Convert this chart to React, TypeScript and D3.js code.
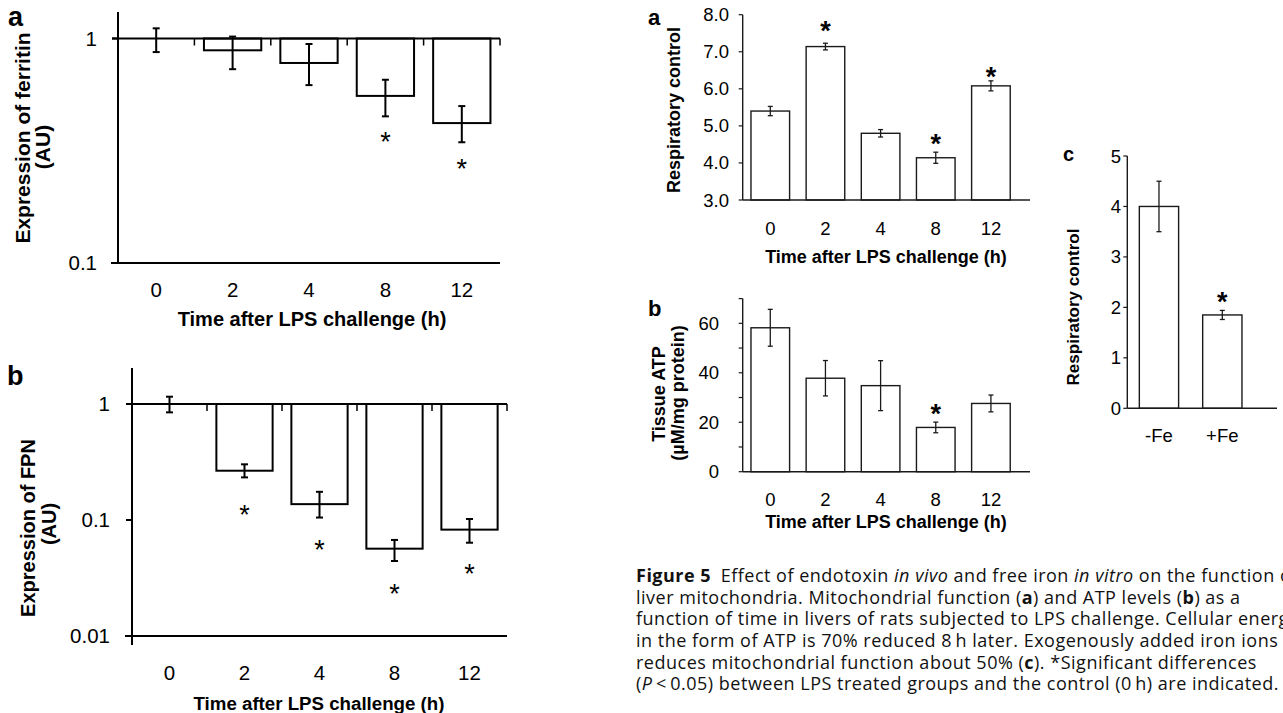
import React from 'react';
import * as d3 from 'd3';

// ---- data ----
const hours = ['0', '2', '4', '8', '12'];

// left a: ferritin expression (log scale, AU)
const ferritin = [1, 0.886, 0.778, 0.555, 0.42];
const ferritinHi = [1.11, 1.02, 0.945, 0.655, 0.5];
const ferritinLo = [0.87, 0.73, 0.62, 0.45, 0.345];
const ferritinStar = [null, null, null, 0.372, 0.282];

// left b: FPN expression (log scale, AU)
const fpn = [1, 0.266, 0.137, 0.0566, 0.0826];
const fpnHi = [1.156, 0.302, 0.175, 0.0673, 0.102];
const fpnLo = [0.847, 0.233, 0.105, 0.0443, 0.0637];
const fpnStar = [null, 0.127, 0.0637, 0.0266, 0.0393];

// right a: respiratory control
const rc = [5.4, 7.14, 4.8, 4.14, 6.08];
const rcErr = [0.125, 0.09, 0.1, 0.15, 0.135];
const rcStar = [null, 7.75, null, 4.71, 6.51];
const rcTicks = [3, 4, 5, 6, 7, 8];

// right b: tissue ATP
const atp = [58.2, 37.8, 34.8, 17.9, 27.6];
const atpErr = [7.45, 7.15, 10.1, 2.15, 3.4];
const atpStar = [null, null, null, 26.3, null];
const atpTicks = [0, 20, 40, 60];
const atpMinor = [0, 10, 20, 30, 40, 50, 60, 70];

// right c: iron in vitro
const ironGroups = ['-Fe', '+Fe'];
const ironRc = [4.0, 1.85];
const ironErr = [0.5, 0.09];
const ironStar = [null, 2.245];
const ironTicks = [0, 1, 2, 3, 4, 5];

const captionLines = [
  [{ t: 'Figure 5', b: true }, { t: '\u2002Effect of endotoxin ' }, { t: 'in vivo', i: true }, { t: ' and free iron ' }, { t: 'in vitro', i: true }, { t: ' on the function of' }],
  [{ t: 'liver mitochondria. Mitochondrial function (' }, { t: 'a', b: true }, { t: ') and ATP levels (' }, { t: 'b', b: true }, { t: ') as a' }],
  [{ t: 'function of time in livers of rats subjected to LPS challenge. Cellular energy' }],
  [{ t: 'in the form of ATP is 70% reduced 8\u2009h later. Exogenously added iron ions' }],
  [{ t: 'reduces mitochondrial function about 50% (' }, { t: 'c', b: true }, { t: '). *Significant differences' }],
  [{ t: '(' }, { t: 'P', i: true }, { t: '\u2009<\u20090.05) between LPS treated groups and the control (0\u2009h) are indicated.' }],
];

const AXIS_FONT = '"Liberation Sans", Arial, sans-serif';

function ErrBar({ cx, yHi, yLo, cap, w, color }) {
  return (
    <g stroke={color} strokeWidth={w}>
      <line x1={cx} x2={cx} y1={yHi} y2={yLo} />
      <line x1={cx - cap} x2={cx + cap} y1={yHi} y2={yHi} />
      <line x1={cx - cap} x2={cx + cap} y1={yLo} y2={yLo} />
    </g>
  );
}

// asterisk glyph sits high in the em box, so push the baseline down to centre it on y
function Star({ x, y, size, bold }) {
  return (
    <text x={x} y={y + size * 0.6} textAnchor="middle" fontSize={size} fontWeight={bold ? 'bold' : 'normal'}>*</text>
  );
}

function VLabel({ x, y, size, children }) {
  return (
    <text transform={`translate(${x},${y}) rotate(-90)`} textAnchor="middle" fontSize={size} fontWeight="bold">{children}</text>
  );
}

// bars hanging down from 1 on a log axis
function LogPanel({ vals, hi, lo, stars, xr, yr, dom, ticks, axisTop, axisBottom, tickX, labelY }) {
  const x = d3.scaleBand().domain(hours).range(xr).paddingInner(0.25).paddingOuter(0.125);
  const y = d3.scaleLog().domain(dom).range(yr);
  const half = x.bandwidth() / 2;
  return (
    <g>
      <line x1={xr[0]} x2={xr[0]} y1={axisTop} y2={axisBottom} stroke="#000" strokeWidth={2} />
      {hours.map((h, i) => (
        <rect key={h} x={x(h)} y={y(1)} width={x.bandwidth()} height={y(vals[i]) - y(1)} fill="#fff" stroke="#000" strokeWidth={2} />
      ))}
      <line x1={xr[0] - 6} x2={xr[1]} y1={y(1)} y2={y(1)} stroke="#000" strokeWidth={2} />
      <line x1={xr[0] - 7} x2={xr[1]} y1={y(dom[0])} y2={y(dom[0])} stroke="#000" strokeWidth={2} />
      {ticks.map((t) => (
        <g key={t}>
          <line x1={xr[0] - 6} x2={xr[0]} y1={y(t)} y2={y(t)} stroke="#000" strokeWidth={2} />
          <text x={tickX} y={y(t) + 7} textAnchor="end" fontSize={20.5}>{t}</text>
        </g>
      ))}
      {hours.map((h) => (
        <line key={h} x1={x(h) + half + x.step() / 2} x2={x(h) + half + x.step() / 2} y1={y(1)} y2={y(1) + 7} stroke="#000" strokeWidth={1.5} />
      ))}
      {hours.map((h, i) => (
        <ErrBar key={h} cx={x(h) + half} yHi={y(hi[i])} yLo={y(lo[i])} cap={3.5} w={2} color="#000" />
      ))}
      {hours.map((h, i) => stars[i] != null && <Star key={h} x={x(h) + half} y={y(stars[i])} size={27} />)}
      {hours.map((h) => (
        <text key={h} x={x(h) + half} y={labelY} textAnchor="middle" fontSize={20.5}>{h}</text>
      ))}
    </g>
  );
}

function LinPanel({ cats, vals, err, stars, xr, xEnd, yr, dom, ticks, minor, fmt, tickX, labelY, pad }) {
  const x = d3.scaleBand().domain(cats).range(xr).paddingInner(pad).paddingOuter(pad / 2);
  const y = d3.scaleLinear().domain(dom).range(yr);
  const half = x.bandwidth() / 2;
  const c = '#1a1a1a';
  return (
    <g>
      {cats.map((h, i) => (
        <rect key={h} x={x(h)} y={y(vals[i])} width={x.bandwidth()} height={y(dom[0]) - y(vals[i])} fill="#fff" stroke={c} strokeWidth={1.4} />
      ))}
      <line x1={xr[0]} x2={xr[0]} y1={y(dom[1])} y2={y(dom[0])} stroke={c} strokeWidth={1.4} />
      <line x1={xr[0]} x2={xEnd} y1={y(dom[0])} y2={y(dom[0])} stroke={c} strokeWidth={1.4} />
      {minor.map((t) => (
        <line key={t} x1={xr[0] - 4} x2={xr[0]} y1={y(t)} y2={y(t)} stroke={c} strokeWidth={1.2} />
      ))}
      {ticks.map((t) => (
        <text key={t} x={tickX} y={y(t) + 6.5} textAnchor="end" fontSize={18.5}>{fmt(t)}</text>
      ))}
      {cats.map((h) => (
        <text key={h} x={x(h) + half} y={labelY} textAnchor="middle" fontSize={18.5}>{h}</text>
      ))}
      {cats.map((h, i) => (
        <ErrBar key={h} cx={x(h) + half} yHi={y(vals[i] + err[i])} yLo={y(vals[i] - err[i])} cap={2.5} w={1.3} color={c} />
      ))}
      {cats.map((h, i) => stars[i] != null && <Star key={h} x={x(h) + half} y={y(stars[i])} size={27} bold />)}
    </g>
  );
}

export default function App() {
  const title = 'Time after LPS challenge (h)';
  return (
    <svg width={1283} height={713} style={{ position: 'absolute', left: 0, top: 0, background: '#fff' }} fontFamily={AXIS_FONT} fill="#000">
      <rect width={1283} height={713} fill="#fff" />

      {/* left a: ferritin */}
      <text x={8} y={26} fontSize={27} fontWeight="bold">a</text>
      <VLabel x={30} y={138} size={21}>Expression of ferritin</VLabel>
      <VLabel x={50} y={147} size={21}>(AU)</VLabel>
      <LogPanel vals={ferritin} hi={ferritinHi} lo={ferritinLo} stars={ferritinStar}
        xr={[118, 500]} yr={[263, 38.5]} dom={[0.1, 1]} ticks={[0.1, 1]} axisTop={12} axisBottom={263} tickX={97} labelY={297} />
      <text x={312} y={326} textAnchor="middle" fontSize={20} fontWeight="bold">{title}</text>

      {/* left b: FPN */}
      <text x={7} y={385} fontSize={27} fontWeight="bold">b</text>
      <VLabel x={35} y={528} size={20}>Expression of FPN</VLabel>
      <VLabel x={56} y={524} size={20}>(AU)</VLabel>
      <LogPanel vals={fpn} hi={fpnHi} lo={fpnLo} stars={fpnStar}
        xr={[132, 507]} yr={[636, 404]} dom={[0.01, 1]} ticks={[0.01, 0.1, 1]} axisTop={368} axisBottom={645} tickX={110} labelY={680} />
      <text x={319} y={710} textAnchor="middle" fontSize={18.7} fontWeight="bold">{title}</text>

      {/* right a: respiratory control */}
      <text x={648} y={25} fontSize={22} fontWeight="bold">a</text>
      <VLabel x={680} y={110} size={18}>Respiratory control</VLabel>
      <LinPanel cats={hours} vals={rc} err={rcErr} stars={rcStar} xr={[742.7, 1018.5]} xEnd={1030}
        yr={[200, 14.7]} dom={[3, 8]} ticks={rcTicks} minor={rcTicks} fmt={d3.format('.1f')} tickX={729} labelY={235} pad={0.3} />
      <text x={886} y={263} textAnchor="middle" fontSize={18} fontWeight="bold">{title}</text>

      {/* right b: tissue ATP */}
      <text x={648} y={316} fontSize={22} fontWeight="bold">b</text>
      <VLabel x={665} y={394} size={18}>Tissue ATP</VLabel>
      <VLabel x={684} y={393} size={18}>(µM/mg protein)</VLabel>
      <LinPanel cats={hours} vals={atp} err={atpErr} stars={atpStar} xr={[742.7, 1018.5]} xEnd={1030}
        yr={[471.7, 298.6]} dom={[0, 70]} ticks={atpTicks} minor={atpMinor} fmt={d3.format('d')} tickX={719} labelY={506} pad={0.3} />
      <text x={886} y={528} textAnchor="middle" fontSize={18} fontWeight="bold">{title}</text>

      {/* right c: iron */}
      <text x={1063} y={161} fontSize={20} fontWeight="bold">c</text>
      <VLabel x={1079} y={307} size={17}>Respiratory control</VLabel>
      <LinPanel cats={ironGroups} vals={ironRc} err={ironErr} stars={ironStar} xr={[1127.3, 1254]} xEnd={1277}
        yr={[408.3, 156]} dom={[0, 5]} ticks={ironTicks} minor={ironTicks} fmt={d3.format('d')} tickX={1121} labelY={442} pad={0.38} />

      {/* caption */}
      <text fontFamily='"Open Sans", "Noto Sans", sans-serif' fontSize={18} letterSpacing={0.5} fill="#111">
        {captionLines.map((line, li) => (
          <tspan key={li} x={636} y={582 + li * 21.67}>
            {line.map((s, si) => (
              <tspan key={si} fontWeight={s.b ? 'bold' : 'normal'} fontStyle={s.i ? 'italic' : 'normal'}>{s.t}</tspan>
            ))}
          </tspan>
        ))}
      </text>
    </svg>
  );
}
